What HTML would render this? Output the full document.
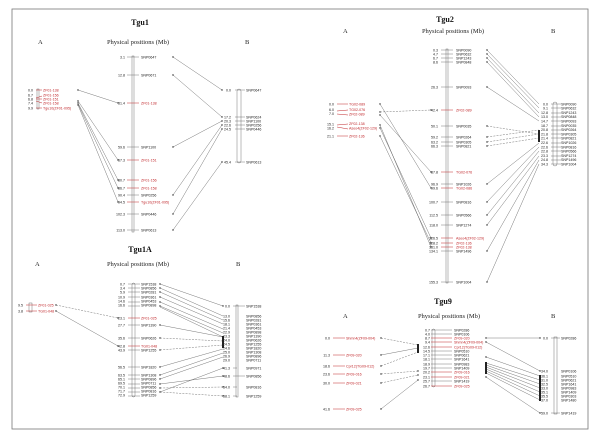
<!DOCTYPE html>
<html><head><meta charset="utf-8"><style>
html,body{margin:0;padding:0;background:#fff;width:600px;height:440px;overflow:hidden}
svg{display:block}
.s{font-family:"Liberation Sans",sans-serif;font-size:3.6px;fill:#222}
.r{fill:#c0282c}
.t{font-family:"Liberation Serif",serif;font-weight:bold;font-size:8px;fill:#111}
.h{font-family:"Liberation Serif",serif;font-size:6.5px;fill:#222}
line{stroke:#555;stroke-width:0.4}
.rl{stroke:#c0282c;stroke-width:0.5}
.d{stroke-dasharray:2 1.2}
</style></head><body>
<svg width="600" height="440" viewBox="0 0 600 440" xmlns="http://www.w3.org/2000/svg">
<rect x="12" y="9" width="576" height="420" fill="none" stroke="#777" stroke-width="0.8"/>

<!-- ========== Tgu1 ========== -->
<text class="t" x="140" y="25" text-anchor="middle">Tgu1</text>
<text class="h" x="38" y="44">A</text>
<text class="h" x="138" y="44" text-anchor="middle">Physical positions (Mb)</text>
<text class="h" x="245" y="44">B</text>
<rect x="132" y="56" width="2" height="176" fill="none" stroke="#555" stroke-width="0.4"/>
<g>
<line x1="127" y1="57" x2="139" y2="57"/><text class="s" x="125" y="58.3" text-anchor="end">3.1</text><text class="s" x="141" y="58.3">SNP0647</text>
<line x1="127" y1="75" x2="139" y2="75"/><text class="s" x="125" y="76.3" text-anchor="end">12.8</text><text class="s" x="141" y="76.3">SNP0671</text>
<line class="rl" x1="127" y1="103" x2="139" y2="103"/><text class="s" x="125" y="104.3" text-anchor="end">31.4</text><text class="s r" x="141" y="104.3">ZF01-138</text>
<line x1="127" y1="147" x2="139" y2="147"/><text class="s" x="125" y="148.3" text-anchor="end">59.6</text><text class="s" x="141" y="148.3">SNP1100</text>
<line class="rl" x1="127" y1="160" x2="139" y2="160"/><text class="s" x="125" y="161.3" text-anchor="end">67.3</text><text class="s r" x="141" y="161.3">ZF01-151</text>
<line class="rl" x1="127" y1="180" x2="139" y2="180"/><text class="s" x="125" y="181.3" text-anchor="end">80.7</text><text class="s r" x="141" y="181.3">ZF01-156</text>
<line class="rl" x1="127" y1="188" x2="139" y2="188"/><text class="s" x="125" y="189.3" text-anchor="end">86.7</text><text class="s r" x="141" y="189.3">ZF01-158</text>
<line x1="127" y1="195" x2="139" y2="195"/><text class="s" x="125" y="196.3" text-anchor="end">90.4</text><text class="s" x="141" y="196.3">SNP0256</text>
<line class="rl" x1="127" y1="202" x2="139" y2="202"/><text class="s" x="125" y="203.3" text-anchor="end">94.5</text><text class="s r" x="141" y="203.3">Tgu10(ZF01-095)</text>
<line x1="127" y1="214" x2="139" y2="214"/><text class="s" x="125" y="215.3" text-anchor="end">102.3</text><text class="s" x="141" y="215.3">SNP0446</text>
<line x1="127" y1="230" x2="139" y2="230"/><text class="s" x="125" y="231.3" text-anchor="end">113.0</text><text class="s" x="141" y="231.3">SNP0613</text>
</g>
<rect x="237" y="89" width="4" height="74" rx="2" fill="none" stroke="#555" stroke-width="0.4"/>
<g>
<line x1="235" y1="90" x2="245" y2="90"/><text class="s" x="231" y="91.3" text-anchor="end">0.0</text><text class="s" x="246" y="91.3">SNP0647</text>
<line x1="235" y1="117" x2="245" y2="117"/><text class="s" x="231" y="118.3" text-anchor="end">17.2</text><text class="s" x="246" y="118.3">SNP0624</text>
<line x1="235" y1="121" x2="245" y2="121"/><text class="s" x="231" y="122.3" text-anchor="end">20.3</text><text class="s" x="246" y="122.3">SNP1100</text>
<line x1="235" y1="125" x2="245" y2="125"/><text class="s" x="231" y="126.3" text-anchor="end">22.6</text><text class="s" x="246" y="126.3">SNP0256</text>
<line x1="235" y1="129" x2="245" y2="129"/><text class="s" x="231" y="130.3" text-anchor="end">24.5</text><text class="s" x="246" y="130.3">SNP0446</text>
<line x1="235" y1="162" x2="245" y2="162"/><text class="s" x="231" y="163.3" text-anchor="end">45.4</text><text class="s" x="246" y="163.3">SNP0613</text>
</g>
<g>
<line x1="173" y1="57" x2="222" y2="90"/><line x1="173" y1="75" x2="222" y2="117"/>
<line x1="173" y1="147" x2="222" y2="121"/><line x1="173" y1="195" x2="222" y2="125"/>
<line x1="173" y1="214" x2="222" y2="129"/><line x1="173" y1="230" x2="222" y2="162"/>
</g>
<g fill="#222"><circle cx="173" cy="57" r="0.7"/><circle cx="173" cy="75" r="0.7"/><circle cx="173" cy="147" r="0.7"/><circle cx="173" cy="195" r="0.7"/><circle cx="173" cy="214" r="0.7"/><circle cx="173" cy="230" r="0.7"/>
<circle cx="222" cy="90" r="0.7"/><circle cx="222" cy="117" r="0.7"/><circle cx="222" cy="121" r="0.7"/><circle cx="222" cy="125" r="0.7"/><circle cx="222" cy="129" r="0.7"/><circle cx="222" cy="162" r="0.7"/>
<circle cx="118" cy="103" r="0.7"/><circle cx="118" cy="160" r="0.7"/><circle cx="118" cy="180" r="0.7"/><circle cx="118" cy="188" r="0.7"/><circle cx="118" cy="202" r="0.7"/>
<circle cx="78" cy="90" r="0.7"/><circle cx="78" cy="101" r="0.7"/><circle cx="78" cy="103" r="0.7"/><circle cx="78" cy="105" r="0.7"/></g>
<rect x="37" y="89" width="2" height="20" fill="none" stroke="#555" stroke-width="0.4"/>
<g>
<line class="rl" x1="36" y1="90" x2="42" y2="90"/><text class="s" x="33" y="91.3" text-anchor="end">0.0</text><text class="s r" x="43" y="91.3">ZF01-138</text>
<line class="rl" x1="36" y1="98" x2="42" y2="96"/><text class="s" x="33" y="96.3" text-anchor="end">6.7</text><text class="s r" x="43" y="96.3">ZF01-156</text>
<line class="rl" x1="36" y1="99" x2="42" y2="99"/><text class="s" x="33" y="100.3" text-anchor="end">6.8</text><text class="s r" x="43" y="100.3">ZF01-151</text>
<line class="rl" x1="36" y1="101" x2="42" y2="103"/><text class="s" x="33" y="104.3" text-anchor="end">7.4</text><text class="s r" x="43" y="104.3">ZF01-158</text>
<line class="rl" x1="36" y1="108" x2="42" y2="108"/><text class="s" x="33" y="109.3" text-anchor="end">9.9</text><text class="s r" x="43" y="109.3">Tgu10(ZF01-095)</text>
</g>
<g>
<line x1="78" y1="90" x2="118" y2="103"/><line x1="78" y1="101" x2="118" y2="160"/><line x1="78" y1="103" x2="118" y2="180"/><line x1="78" y1="104" x2="118" y2="188"/><line x1="78" y1="105" x2="118" y2="202"/>
</g>

<!-- ========== Tgu2 ========== -->
<text class="t" x="445" y="22" text-anchor="middle">Tgu2</text>
<text class="h" x="343" y="33">A</text>
<text class="h" x="453" y="33" text-anchor="middle">Physical positions (Mb)</text>
<text class="h" x="551" y="33">B</text>
<rect x="446" y="49" width="2" height="234" fill="none" stroke="#555" stroke-width="0.4"/>
<g>
<line x1="441" y1="50" x2="453" y2="50"/><text class="s" x="438" y="51.3" text-anchor="end">0.3</text><text class="s" x="456" y="51.3">SNP0090</text>
<line x1="441" y1="54" x2="453" y2="54"/><text class="s" x="438" y="55.3" text-anchor="end">4.7</text><text class="s" x="456" y="55.3">SNP0632</text>
<line x1="441" y1="58" x2="453" y2="58"/><text class="s" x="438" y="59.3" text-anchor="end">6.7</text><text class="s" x="456" y="59.3">SNP1243</text>
<line x1="441" y1="62" x2="453" y2="62"/><text class="s" x="438" y="63.3" text-anchor="end">8.6</text><text class="s" x="456" y="63.3">SNP0848</text>
<line x1="441" y1="87" x2="453" y2="87"/><text class="s" x="438" y="88.3" text-anchor="end">26.3</text><text class="s" x="456" y="88.3">SNP0093</text>
<line class="rl" x1="441" y1="110" x2="453" y2="110"/><text class="s" x="438" y="111.3" text-anchor="end">42.4</text><text class="s r" x="456" y="111.3">ZF02-089</text>
<line x1="441" y1="126" x2="453" y2="126"/><text class="s" x="438" y="127.3" text-anchor="end">50.1</text><text class="s" x="456" y="127.3">SNP0035</text>
<line x1="441" y1="137" x2="453" y2="137"/><text class="s" x="438" y="138.3" text-anchor="end">59.2</text><text class="s" x="456" y="138.3">SNP0264</text>
<line x1="441" y1="142" x2="453" y2="142"/><text class="s" x="438" y="143.3" text-anchor="end">63.2</text><text class="s" x="456" y="143.3">SNP0305</text>
<line x1="441" y1="146" x2="453" y2="146"/><text class="s" x="438" y="147.3" text-anchor="end">66.3</text><text class="s" x="456" y="147.3">SNP0821</text>
<line class="rl" x1="441" y1="172" x2="453" y2="172"/><text class="s" x="438" y="173.3" text-anchor="end">87.8</text><text class="s r" x="456" y="173.3">TG02-076</text>
<line x1="441" y1="184" x2="453" y2="184"/><text class="s" x="438" y="185.3" text-anchor="end">96.9</text><text class="s" x="456" y="185.3">SNP1026</text>
<line class="rl" x1="441" y1="188" x2="453" y2="188"/><text class="s" x="438" y="189.3" text-anchor="end">99.6</text><text class="s r" x="456" y="189.3">TG02-086</text>
<line x1="441" y1="202" x2="453" y2="202"/><text class="s" x="438" y="203.3" text-anchor="end">100.7</text><text class="s" x="456" y="203.3">SNP0816</text>
<line x1="441" y1="215" x2="453" y2="215"/><text class="s" x="438" y="216.3" text-anchor="end">112.5</text><text class="s" x="456" y="216.3">SNP0566</text>
<line x1="441" y1="225" x2="453" y2="225"/><text class="s" x="438" y="226.3" text-anchor="end">118.0</text><text class="s" x="456" y="226.3">SNP1274</text>
<line class="rl" x1="441" y1="238" x2="453" y2="238"/><text class="s" x="438" y="239.3" text-anchor="end">126.5</text><text class="s r" x="456" y="239.3">Aseo4(ZF02-129)</text>
<line class="rl" x1="441" y1="243" x2="453" y2="243"/><text class="s" x="438" y="244.3" text-anchor="end">128.2</text><text class="s r" x="456" y="244.3">ZF02-136</text>
<line class="rl" x1="441" y1="247" x2="453" y2="247"/><text class="s" x="438" y="248.3" text-anchor="end">131.0</text><text class="s r" x="456" y="248.3">ZF02-138</text>
<line x1="441" y1="251" x2="453" y2="251"/><text class="s" x="438" y="252.3" text-anchor="end">134.1</text><text class="s" x="456" y="252.3">SNP1496</text>
<line x1="441" y1="282" x2="453" y2="282"/><text class="s" x="438" y="283.3" text-anchor="end">155.3</text><text class="s" x="456" y="283.3">SNP1004</text>
</g>
<rect x="553" y="102" width="4" height="64" rx="2" fill="none" stroke="#555" stroke-width="0.4"/>
<g>
<text class="s" x="548" y="105.3" text-anchor="end">0.0</text><text class="s" x="561" y="105.3">SNP0090</text>
<text class="s" x="548" y="109.6" text-anchor="end">9.1</text><text class="s" x="561" y="109.6">SNP0632</text>
<text class="s" x="548" y="113.9" text-anchor="end">12.8</text><text class="s" x="561" y="113.9">SNP1243</text>
<text class="s" x="548" y="118.2" text-anchor="end">13.0</text><text class="s" x="561" y="118.2">SNP0848</text>
<text class="s" x="548" y="122.5" text-anchor="end">14.7</text><text class="s" x="561" y="122.5">SNP0093</text>
<text class="s" x="548" y="126.8" text-anchor="end">18.7</text><text class="s" x="561" y="126.8">SNP0035</text>
<text class="s" x="548" y="131.1" text-anchor="end">20.8</text><text class="s" x="561" y="131.1">SNP0264</text>
<text class="s" x="548" y="135.4" text-anchor="end">21.8</text><text class="s" x="561" y="135.4">SNP0305</text>
<text class="s" x="548" y="139.7" text-anchor="end">21.4</text><text class="s" x="561" y="139.7">SNP0821</text>
<text class="s" x="548" y="144.0" text-anchor="end">22.6</text><text class="s" x="561" y="144.0">SNP1026</text>
<text class="s" x="548" y="148.3" text-anchor="end">22.6</text><text class="s" x="561" y="148.3">SNP0816</text>
<text class="s" x="548" y="152.6" text-anchor="end">22.8</text><text class="s" x="561" y="152.6">SNP0566</text>
<text class="s" x="548" y="156.9" text-anchor="end">23.3</text><text class="s" x="561" y="156.9">SNP1274</text>
<text class="s" x="548" y="161.2" text-anchor="end">24.8</text><text class="s" x="561" y="161.2">SNP1496</text>
<text class="s" x="548" y="165.5" text-anchor="end">34.3</text><text class="s" x="561" y="165.5">SNP1004</text>
<line x1="551" y1="104" x2="561" y2="104"/><line x1="551" y1="108" x2="561" y2="108"/><line x1="551" y1="113" x2="561" y2="113"/><line x1="551" y1="117" x2="561" y2="117"/><line x1="551" y1="121" x2="561" y2="121"/><line x1="551" y1="126" x2="561" y2="126"/><line x1="551" y1="130" x2="561" y2="130"/><line x1="551" y1="134" x2="561" y2="134"/><line x1="551" y1="138" x2="561" y2="138"/><line x1="551" y1="143" x2="561" y2="143"/><line x1="551" y1="147" x2="561" y2="147"/><line x1="551" y1="151" x2="561" y2="151"/><line x1="551" y1="156" x2="561" y2="156"/><line x1="551" y1="160" x2="561" y2="160"/><line x1="551" y1="164" x2="561" y2="164"/>
</g>
<g>
<line x1="487" y1="50" x2="539" y2="104"/><line x1="487" y1="54" x2="539" y2="108"/><line x1="487" y1="58" x2="539" y2="113"/><line x1="487" y1="62" x2="539" y2="117"/>
<line x1="487" y1="87" x2="539" y2="121"/><line class="d" x1="487" y1="126" x2="539" y2="134"/>
<line class="d" x1="487" y1="137" x2="539" y2="130"/><line class="d" x1="487" y1="142" x2="539" y2="134"/><line class="d" x1="487" y1="146" x2="539" y2="138"/>
<line x1="487" y1="184" x2="539" y2="143"/><line x1="487" y1="202" x2="539" y2="147"/><line x1="487" y1="215" x2="539" y2="151"/>
<line x1="487" y1="225" x2="539" y2="156"/><line x1="487" y1="251" x2="539" y2="160"/><line x1="487" y1="282" x2="539" y2="164"/>
</g>
<g fill="#222"><circle cx="487" cy="50" r="0.7"/><circle cx="487" cy="54" r="0.7"/><circle cx="487" cy="58" r="0.7"/><circle cx="487" cy="62" r="0.7"/><circle cx="487" cy="87" r="0.7"/><circle cx="487" cy="126" r="0.7"/><circle cx="487" cy="137" r="0.7"/><circle cx="487" cy="142" r="0.7"/><circle cx="487" cy="146" r="0.7"/><circle cx="487" cy="184" r="0.7"/><circle cx="487" cy="202" r="0.7"/><circle cx="487" cy="215" r="0.7"/><circle cx="487" cy="225" r="0.7"/><circle cx="487" cy="251" r="0.7"/><circle cx="487" cy="282" r="0.7"/>
<rect x="538" y="130" width="2" height="12"/>
<circle cx="431" cy="110" r="0.7"/><circle cx="431" cy="172" r="0.7"/><circle cx="431" cy="188" r="0.7"/><circle cx="431" cy="238" r="0.7"/><circle cx="431" cy="243" r="0.7"/><circle cx="431" cy="247" r="0.7"/>
<circle cx="380" cy="104" r="0.7"/><circle cx="380" cy="112" r="0.7"/><circle cx="380" cy="115" r="0.7"/><circle cx="380" cy="125" r="0.7"/><circle cx="380" cy="128" r="0.7"/><circle cx="380" cy="136" r="0.7"/></g>
<g>
<line class="rl" x1="337" y1="104" x2="348" y2="104"/><text class="s" x="334" y="105.3" text-anchor="end">0.0</text><text class="s r" x="349" y="105.3">TG02-089</text>
<line class="rl" x1="337" y1="111" x2="348" y2="110"/><text class="s" x="334" y="110.8" text-anchor="end">6.0</text><text class="s r" x="349" y="110.8">TG02-076</text>
<line class="rl" x1="337" y1="114" x2="348" y2="115"/><text class="s" x="334" y="114.8" text-anchor="end">7.0</text><text class="s r" x="349" y="115.3">ZF02-089</text>
<line class="rl" x1="337" y1="125" x2="348" y2="124"/><text class="s" x="334" y="125.3" text-anchor="end">15.1</text><text class="s r" x="349" y="124.8">ZF02-138</text>
<line class="rl" x1="337" y1="127" x2="348" y2="129"/><text class="s" x="334" y="129.3" text-anchor="end">16.2</text><text class="s r" x="349" y="129.3">Aseo4(ZF02-129)</text>
<line class="rl" x1="337" y1="136" x2="348" y2="136"/><text class="s" x="334" y="137.3" text-anchor="end">21.1</text><text class="s r" x="349" y="137.3">ZF02-136</text>
</g>
<g>
<line x1="380" y1="104" x2="431" y2="188"/><line class="d" x1="380" y1="112" x2="431" y2="110"/><line x1="380" y1="115" x2="431" y2="172"/>
<line x1="380" y1="125" x2="431" y2="247"/><line x1="380" y1="128" x2="431" y2="238"/><line x1="380" y1="136" x2="431" y2="243"/>
</g>

<!-- ========== Tgu1A ========== -->
<text class="t" x="140" y="252" text-anchor="middle">Tgu1A</text>
<text class="h" x="35" y="266">A</text>
<text class="h" x="138" y="266" text-anchor="middle">Physical positions (Mb)</text>
<text class="h" x="236" y="266">B</text>
<rect x="132" y="283" width="3" height="114" rx="1.5" fill="none" stroke="#555" stroke-width="0.4"/>
<g>
<line x1="128" y1="284" x2="140" y2="284"/><text class="s" x="125" y="285.3" text-anchor="end">0.7</text><text class="s" x="141" y="285.3">SNP1538</text>
<line x1="128" y1="288" x2="140" y2="288"/><text class="s" x="125" y="289.3" text-anchor="end">3.4</text><text class="s" x="141" y="289.3">SNP0856</text>
<line x1="128" y1="292" x2="140" y2="292"/><text class="s" x="125" y="293.3" text-anchor="end">5.9</text><text class="s" x="141" y="293.3">SNP0281</text>
<line x1="128" y1="297" x2="140" y2="297"/><text class="s" x="125" y="298.3" text-anchor="end">10.9</text><text class="s" x="141" y="298.3">SNP0361</text>
<line x1="128" y1="302" x2="140" y2="302"/><text class="s" x="125" y="302.3" text-anchor="end">14.6</text><text class="s" x="141" y="302.3">SNP0453</text>
<line x1="128" y1="306" x2="140" y2="306"/><text class="s" x="125" y="306.3" text-anchor="end">16.6</text><text class="s" x="141" y="306.3">SNP0898</text>
<line class="rl" x1="128" y1="318" x2="140" y2="318"/><text class="s" x="125" y="319.3" text-anchor="end">23.1</text><text class="s r" x="141" y="319.3">ZF01-025</text>
<line x1="128" y1="325" x2="140" y2="325"/><text class="s" x="125" y="326.3" text-anchor="end">27.7</text><text class="s" x="141" y="326.3">SNP1390</text>
<line x1="128" y1="338" x2="140" y2="338"/><text class="s" x="125" y="339.3" text-anchor="end">35.6</text><text class="s" x="141" y="339.3">SNP0626</text>
<line class="rl" x1="128" y1="346" x2="140" y2="346"/><text class="s" x="125" y="347.3" text-anchor="end">42.8</text><text class="s r" x="141" y="347.3">TG01-048</text>
<line x1="128" y1="350" x2="140" y2="350"/><text class="s" x="125" y="351.3" text-anchor="end">43.9</text><text class="s" x="141" y="351.3">SNP1255</text>
<line x1="128" y1="367" x2="140" y2="367"/><text class="s" x="125" y="368.3" text-anchor="end">56.5</text><text class="s" x="141" y="368.3">SNP1820</text>
<line x1="128" y1="375" x2="140" y2="375"/><text class="s" x="125" y="376.3" text-anchor="end">63.5</text><text class="s" x="141" y="376.3">SNP1308</text>
<line x1="128" y1="379" x2="140" y2="379"/><text class="s" x="125" y="380.3" text-anchor="end">65.1</text><text class="s" x="141" y="380.3">SNP0896</text>
<line x1="128" y1="384" x2="140" y2="384"/><text class="s" x="125" y="384.3" text-anchor="end">69.5</text><text class="s" x="141" y="384.3">SNP0711</text>
<line x1="128" y1="388" x2="140" y2="388"/><text class="s" x="125" y="388.3" text-anchor="end">70.1</text><text class="s" x="141" y="388.3">SNP0856</text>
<line x1="128" y1="392" x2="140" y2="392"/><text class="s" x="125" y="392.3" text-anchor="end">71.7</text><text class="s" x="141" y="392.3">SNP0816</text>
<line x1="128" y1="396" x2="140" y2="396"/><text class="s" x="125" y="396.6" text-anchor="end">72.9</text><text class="s" x="141" y="396.6">SNP1259</text>
</g>
<rect x="236" y="305" width="2" height="92" fill="none" stroke="#555" stroke-width="0.4"/>
<g>
<line x1="233" y1="306" x2="245" y2="306"/><text class="s" x="230" y="307.3" text-anchor="end">0.0</text><text class="s" x="246" y="307.3">SNP1538</text>
<text class="s" x="230" y="317.3" text-anchor="end">13.0</text><text class="s" x="246" y="317.3">SNP0856</text>
<text class="s" x="230" y="321.3" text-anchor="end">15.6</text><text class="s" x="246" y="321.3">SNP0281</text>
<text class="s" x="230" y="325.3" text-anchor="end">18.1</text><text class="s" x="246" y="325.3">SNP0361</text>
<text class="s" x="230" y="329.3" text-anchor="end">21.4</text><text class="s" x="246" y="329.3">SNP0453</text>
<text class="s" x="230" y="333.3" text-anchor="end">22.9</text><text class="s" x="246" y="333.3">SNP0898</text>
<text class="s" x="230" y="337.3" text-anchor="end">23.3</text><text class="s" x="246" y="337.3">SNP1390</text>
<text class="s" x="230" y="341.3" text-anchor="end">24.0</text><text class="s" x="246" y="341.3">SNP0626</text>
<text class="s" x="230" y="345.3" text-anchor="end">24.5</text><text class="s" x="246" y="345.3">SNP1255</text>
<text class="s" x="230" y="349.3" text-anchor="end">24.6</text><text class="s" x="246" y="349.3">SNP1820</text>
<text class="s" x="230" y="353.3" text-anchor="end">25.0</text><text class="s" x="246" y="353.3">SNP1308</text>
<text class="s" x="230" y="357.3" text-anchor="end">26.9</text><text class="s" x="246" y="357.3">SNP0896</text>
<text class="s" x="230" y="361.3" text-anchor="end">29.0</text><text class="s" x="246" y="361.3">SNP0711</text>
<line x1="233" y1="368" x2="237" y2="368"/><text class="s" x="230" y="369.3" text-anchor="end">41.3</text><text class="s" x="246" y="369.3">SNP0971</text>
<line x1="233" y1="376" x2="245" y2="376"/><text class="s" x="230" y="377.3" text-anchor="end">48.6</text><text class="s" x="246" y="377.3">SNP0856</text>
<line x1="233" y1="387" x2="237" y2="387"/><text class="s" x="230" y="388.3" text-anchor="end">54.0</text><text class="s" x="246" y="388.3">SNP0816</text>
<line x1="233" y1="396" x2="237" y2="396"/><text class="s" x="230" y="397.3" text-anchor="end">58.1</text><text class="s" x="246" y="397.3">SNP1259</text>
</g>
<g>
<line x1="160" y1="284" x2="223" y2="306"/><line x1="160" y1="288" x2="223" y2="316"/><line x1="160" y1="292" x2="223" y2="320"/>
<line x1="160" y1="297" x2="223" y2="324"/><line x1="160" y1="302" x2="223" y2="329"/><line x1="160" y1="306" x2="223" y2="333"/>
<line x1="160" y1="307" x2="223" y2="337"/><line x1="160" y1="325" x2="223" y2="337"/><line class="d" x1="160" y1="338" x2="223" y2="341"/>
<line class="d" x1="160" y1="350" x2="223" y2="345"/><line x1="160" y1="367" x2="223" y2="349"/><line x1="160" y1="375" x2="223" y2="353"/>
<line x1="160" y1="379" x2="223" y2="357"/><line x1="160" y1="384" x2="223" y2="376"/><line class="d" x1="160" y1="388" x2="223" y2="387"/>
<line class="d" x1="160" y1="392" x2="223" y2="396"/><line x1="160" y1="392" x2="223" y2="368"/>
<line class="d" x1="56" y1="305" x2="118" y2="318"/><line x1="56" y1="311" x2="118" y2="346"/>
</g>
<g fill="#222"><circle cx="160" cy="284" r="0.7"/><circle cx="160" cy="288" r="0.7"/><circle cx="160" cy="292" r="0.7"/><circle cx="160" cy="297" r="0.7"/><circle cx="160" cy="302" r="0.7"/><circle cx="160" cy="306" r="0.7"/><circle cx="160" cy="325" r="0.7"/><circle cx="160" cy="338" r="0.7"/><circle cx="160" cy="350" r="0.7"/><circle cx="160" cy="367" r="0.7"/><circle cx="160" cy="375" r="0.7"/><circle cx="160" cy="379" r="0.7"/><circle cx="160" cy="384" r="0.7"/><circle cx="160" cy="388" r="0.7"/><circle cx="160" cy="392" r="0.7"/>
<rect x="222" y="336" width="2" height="12"/><circle cx="223" cy="306" r="0.7"/><circle cx="223" cy="368" r="0.7"/><circle cx="223" cy="376" r="0.7"/><circle cx="223" cy="387" r="0.7"/><circle cx="223" cy="396" r="0.7"/>
<circle cx="118" cy="318" r="0.7"/><circle cx="118" cy="346" r="0.7"/><circle cx="56" cy="305" r="0.7"/><circle cx="56" cy="311" r="0.7"/></g>
<rect x="29" y="303" width="3" height="9" fill="none" stroke="#555" stroke-width="0.4"/>
<line class="rl" x1="26" y1="305" x2="37" y2="305"/><text class="s" x="23" y="306.3" text-anchor="end">9.5</text><text class="s r" x="38" y="306.3">ZF01-025</text>
<line class="rl" x1="26" y1="311" x2="37" y2="311"/><text class="s" x="23" y="312.3" text-anchor="end">3.8</text><text class="s r" x="38" y="312.3">TG01-048</text>

<!-- ========== Tgu9 ========== -->
<text class="t" x="443" y="304" text-anchor="middle">Tgu9</text>
<text class="h" x="343" y="318">A</text>
<text class="h" x="449" y="318" text-anchor="middle">Physical positions (Mb)</text>
<text class="h" x="551" y="318">B</text>
<rect x="432" y="329" width="3" height="58" rx="1.5" fill="none" stroke="#555" stroke-width="0.4"/>
<g>
<text class="s" x="430" y="331.3" text-anchor="end">0.7</text><text class="s" x="454" y="331.3">SNP0286</text>
<text class="s" x="430" y="335.3" text-anchor="end">4.0</text><text class="s" x="454" y="335.3">SNP0106</text>
<text class="s" x="430" y="339.3" text-anchor="end">8.7</text><text class="s r" x="454" y="339.3">ZF09-020</text>
<text class="s" x="430" y="343.3" text-anchor="end">9.4</text><text class="s r" x="454" y="343.3">Shmn4(ZF09-004)</text>
<text class="s" x="430" y="348.3" text-anchor="end">12.6</text><text class="s r" x="454" y="348.3">Cpr12(TG09-012)</text>
<text class="s" x="430" y="352.3" text-anchor="end">14.5</text><text class="s" x="454" y="352.3">SNP0510</text>
<text class="s" x="430" y="356.3" text-anchor="end">17.1</text><text class="s" x="454" y="356.3">SNP0621</text>
<text class="s" x="430" y="360.3" text-anchor="end">18.1</text><text class="s" x="454" y="360.3">SNP1641</text>
<text class="s" x="430" y="365.3" text-anchor="end">18.9</text><text class="s" x="454" y="365.3">SNP0983</text>
<text class="s" x="430" y="369.3" text-anchor="end">19.7</text><text class="s" x="454" y="369.3">SNP1409</text>
<text class="s" x="430" y="373.3" text-anchor="end">20.2</text><text class="s r" x="454" y="373.3">ZF09-016</text>
<text class="s" x="430" y="378.3" text-anchor="end">23.1</text><text class="s r" x="454" y="378.3">ZF09-021</text>
<text class="s" x="430" y="382.3" text-anchor="end">25.7</text><text class="s" x="454" y="382.3">SNP1419</text>
<text class="s" x="430" y="387.3" text-anchor="end">26.7</text><text class="s r" x="454" y="387.3">ZF09-025</text>
<line x1="431" y1="330" x2="452" y2="330"/><line x1="431" y1="334" x2="452" y2="334"/><line class="rl" x1="431" y1="338" x2="452" y2="338"/><line class="rl" x1="431" y1="342" x2="452" y2="342"/><line class="rl" x1="431" y1="347" x2="452" y2="347"/><line x1="431" y1="351" x2="452" y2="351"/><line x1="431" y1="355" x2="452" y2="355"/><line x1="431" y1="359" x2="452" y2="359"/><line x1="431" y1="364" x2="452" y2="364"/><line x1="431" y1="368" x2="452" y2="368"/><line class="rl" x1="431" y1="372" x2="452" y2="372"/><line class="rl" x1="431" y1="377" x2="452" y2="377"/><line x1="431" y1="381" x2="452" y2="381"/><line class="rl" x1="431" y1="386" x2="452" y2="386"/>
</g>
<rect x="554" y="337" width="3" height="77" fill="none" stroke="#555" stroke-width="0.4"/>
<g>
<line x1="551" y1="338" x2="560" y2="338"/><text class="s" x="548" y="339.3" text-anchor="end">0.0</text><text class="s" x="561" y="339.3">SNP0286</text>
<text class="s" x="548" y="372.3" text-anchor="end">34.0</text><text class="s" x="561" y="372.3">SNP0106</text>
<text class="s" x="548" y="377.3" text-anchor="end">36.1</text><text class="s" x="561" y="377.3">SNP0510</text>
<text class="s" x="548" y="381.3" text-anchor="end">31.0</text><text class="s" x="561" y="381.3">SNP0621</text>
<text class="s" x="548" y="385.3" text-anchor="end">32.5</text><text class="s" x="561" y="385.3">SNP1641</text>
<text class="s" x="548" y="389.3" text-anchor="end">33.0</text><text class="s" x="561" y="389.3">SNP0983</text>
<text class="s" x="548" y="393.3" text-anchor="end">35.1</text><text class="s" x="561" y="393.3">SNP1409</text>
<text class="s" x="548" y="397.3" text-anchor="end">35.5</text><text class="s" x="561" y="397.3">SNP0303</text>
<text class="s" x="548" y="401.3" text-anchor="end">37.0</text><text class="s" x="561" y="401.3">SNP1480</text>
<line x1="551" y1="413" x2="560" y2="413"/><text class="s" x="548" y="414.3" text-anchor="end">59.0</text><text class="s" x="561" y="414.3">SNP1419</text>
</g>
<g>
<line x1="486" y1="338" x2="540" y2="338"/><line x1="486" y1="342" x2="540" y2="371"/>
<line x1="486" y1="357" x2="540" y2="376"/><line x1="486" y1="363" x2="540" y2="380"/><line x1="486" y1="365" x2="540" y2="384"/>
<line x1="486" y1="367" x2="540" y2="388"/><line x1="486" y1="369" x2="540" y2="392"/><line x1="486" y1="371" x2="540" y2="396"/>
<line x1="486" y1="373" x2="540" y2="400"/><line x1="486" y1="377" x2="540" y2="413"/>
<line class="d" x1="381" y1="338" x2="418" y2="345"/><line x1="381" y1="355" x2="418" y2="348"/><line class="d" x1="381" y1="366" x2="418" y2="352"/>
<line class="d" x1="381" y1="374" x2="418" y2="371"/><line class="d" x1="381" y1="383" x2="418" y2="375"/><line x1="381" y1="409" x2="418" y2="380"/>
</g>
<g fill="#222"><circle cx="486" cy="338" r="0.7"/><circle cx="486" cy="342" r="0.7"/><circle cx="486" cy="357" r="0.7"/><rect x="485" y="362" width="2" height="12"/><circle cx="486" cy="377" r="0.7"/>
<circle cx="540" cy="338" r="0.7"/><circle cx="540" cy="371" r="0.7"/><circle cx="540" cy="413" r="0.7"/><rect x="539" y="375" width="2" height="26"/>
<rect x="417" y="344" width="2" height="9"/><circle cx="418" cy="371" r="0.7"/><circle cx="418" cy="375" r="0.7"/><circle cx="418" cy="380" r="0.7"/>
<circle cx="381" cy="338" r="0.7"/><circle cx="381" cy="355" r="0.7"/><circle cx="381" cy="366" r="0.7"/><circle cx="381" cy="374" r="0.7"/><circle cx="381" cy="383" r="0.7"/><circle cx="381" cy="409" r="0.7"/></g>
<g>
<line class="rl" x1="333" y1="338" x2="345" y2="338"/><text class="s" x="330" y="339.3" text-anchor="end">0.0</text><text class="s r" x="346" y="339.3">Shmn4(ZF09-004)</text>
<line class="rl" x1="333" y1="355" x2="345" y2="355"/><text class="s" x="330" y="356.3" text-anchor="end">11.3</text><text class="s r" x="346" y="356.3">ZF09-020</text>
<line class="rl" x1="333" y1="366" x2="345" y2="366"/><text class="s" x="330" y="367.3" text-anchor="end">18.6</text><text class="s r" x="346" y="367.3">Cpr12(TG09-012)</text>
<line class="rl" x1="333" y1="374" x2="345" y2="374"/><text class="s" x="330" y="375.3" text-anchor="end">23.6</text><text class="s r" x="346" y="375.3">ZF09-016</text>
<line class="rl" x1="333" y1="383" x2="345" y2="383"/><text class="s" x="330" y="384.3" text-anchor="end">30.0</text><text class="s r" x="346" y="384.3">ZF09-021</text>
<line class="rl" x1="333" y1="409" x2="345" y2="409"/><text class="s" x="330" y="410.3" text-anchor="end">41.6</text><text class="s r" x="346" y="410.3">ZF09-025</text>
</g>
</svg>
</body></html>
